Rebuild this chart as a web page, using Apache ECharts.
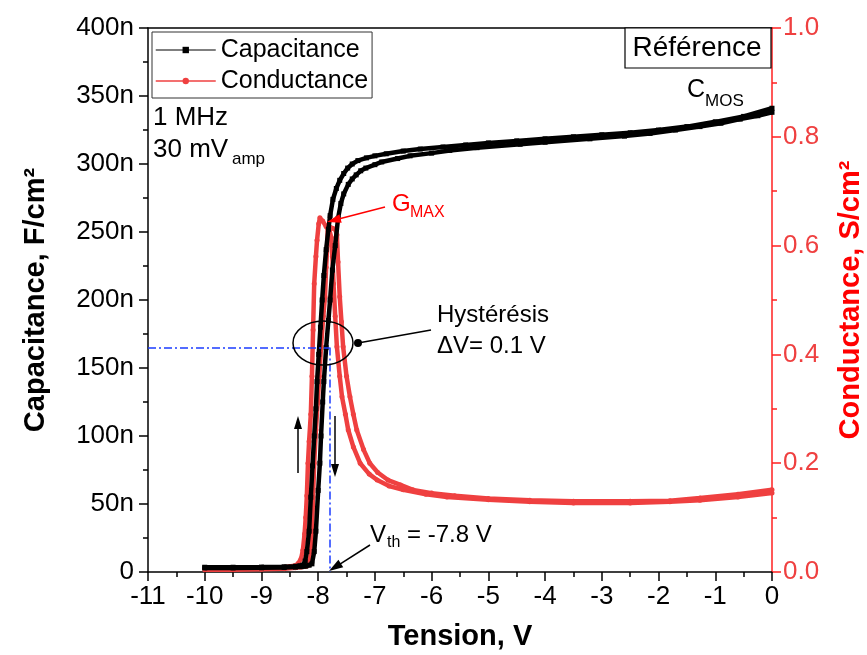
<!DOCTYPE html>
<html><head><meta charset="utf-8">
<script src="https://cdn.jsdelivr.net/npm/echarts@6/dist/echarts.min.js"></script>
<style>html,body{margin:0;padding:0;background:#fff}#c{width:867px;height:655px}</style>
</head><body><div id="c"></div>
<script>
// ---- data ----
const capUpV = [-10.0, -9.5, -9.0, -8.6, -8.4, -8.32, -8.27, -8.23, -8.2, -8.16, -8.13, -8.1, -8.07, -8.04, -8.02, -7.99, -7.96, -7.93, -7.9, -7.86, -7.82, -7.79, -7.74, -7.68, -7.62, -7.55, -7.48, -7.4, -7.3, -7.15, -7.0, -6.8, -6.5, -6.2, -5.8, -5.4, -5.0, -4.5, -4.0, -3.5, -3.0, -2.5, -2.0, -1.5, -1.0, -0.5, 0];
const capUpC = [3.5, 3.5, 3.6, 3.8, 4.2, 4.6, 5, 8, 15, 30, 55, 78, 100, 120, 140, 160, 180, 200, 218, 237, 252, 262, 274, 282, 288, 293, 297, 300, 302.5, 304.5, 306, 307.5, 309.5, 311, 312.5, 314, 315.5, 317, 318.5, 320, 321.5, 323, 325, 327.5, 331, 335, 341];
const capDownV = [-10.0, -9.5, -9.0, -8.6, -8.4, -8.3, -8.22, -8.16, -8.11, -8.07, -8.04, -8.0, -7.97, -7.95, -7.92, -7.9, -7.86, -7.82, -7.79, -7.75, -7.7, -7.65, -7.6, -7.55, -7.47, -7.4, -7.33, -7.25, -7.16, -7.0, -6.88, -6.6, -6.38, -6.0, -5.68, -5.2, -4.44, -4.0, -3.21, -2.6, -2.15, -1.7, -1.27, -0.9, -0.56, -0.25, 0];
const capDownC = [3.0, 3.0, 3.1, 3.3, 3.6, 3.9, 4.3, 5, 6, 15, 30, 60, 80, 100, 125, 140, 165, 185, 200, 222, 240, 260, 271, 278, 285, 289, 292, 295, 297, 299.5, 301.5, 304, 306, 308, 310, 312, 314.5, 316, 318.5, 320.5, 322.5, 325, 327.5, 330, 333, 335.5, 338];
const condUpV = [-10.0, -9.5, -9.0, -8.7, -8.5, -8.4, -8.35, -8.3, -8.27, -8.24, -8.22, -8.2, -8.18, -8.16, -8.13, -8.11, -8.09, -8.07, -8.04, -8.02, -7.99, -7.97, -7.92, -7.86, -7.8, -7.77, -7.75, -7.73, -7.7, -7.67, -7.62, -7.58, -7.52, -7.47, -7.38, -7.26, -7.1, -6.96, -6.75, -6.5, -6.1, -5.73, -5.0, -4.27, -3.5, -2.5, -1.8, -1.27, -0.6, 0];
const condUpG = [0.006, 0.006, 0.007, 0.008, 0.01, 0.012, 0.016, 0.025, 0.04, 0.07, 0.1, 0.14, 0.2, 0.24, 0.29, 0.36, 0.445, 0.53, 0.58, 0.61, 0.64, 0.651, 0.645, 0.635, 0.627, 0.615, 0.58, 0.53, 0.47, 0.414, 0.36, 0.322, 0.29, 0.261, 0.23, 0.2, 0.18, 0.169, 0.158, 0.151, 0.143, 0.138, 0.133, 0.129, 0.127, 0.127, 0.129, 0.132, 0.138, 0.145];
const condDownV = [-10.0, -9.5, -9.0, -8.6, -8.4, -8.3, -8.24, -8.2, -8.17, -8.14, -8.11, -8.09, -8.07, -8.04, -8.01, -7.98, -7.95, -7.91, -7.88, -7.86, -7.84, -7.83, -7.8, -7.75, -7.7, -7.67, -7.65, -7.62, -7.59, -7.56, -7.5, -7.44, -7.38, -7.32, -7.2, -7.09, -6.95, -6.77, -6.55, -6.33, -6.0, -5.59, -5.0, -4.27, -3.5, -2.5, -1.8, -1.27, -0.6, 0];
const condDownG = [0.004, 0.004, 0.005, 0.006, 0.008, 0.009, 0.01, 0.011, 0.013, 0.025, 0.077, 0.138, 0.2, 0.261, 0.31, 0.36, 0.414, 0.47, 0.506, 0.56, 0.6, 0.636, 0.634, 0.632, 0.63, 0.62, 0.57, 0.506, 0.46, 0.414, 0.36, 0.322, 0.29, 0.261, 0.225, 0.2, 0.183, 0.169, 0.16, 0.151, 0.145, 0.14, 0.135, 0.132, 0.13, 0.13, 0.131, 0.136, 0.143, 0.151];
const vThreshold = -7.8;   // V
const cThreshold = 165;    // nF/cm2
const xRange = [-11, 0];
const capRange = [0, 400];
const condRange = [0, 1];

// ---- chart ----
const FONT = '"Liberation Sans", Arial, sans-serif';
const RED = '#ef4040';
const zip = (a, b) => a.map((v, i) => [v, b[i]]);
const chart = echarts.init(document.getElementById('c'), null, {renderer: 'canvas'});

const capSeries = (name, V, C, extra) => Object.assign({
  name: name, type: 'line', xAxisIndex: 0, yAxisIndex: 0, data: zip(V, C),
  symbol: 'rect', symbolSize: 5, showSymbol: true, z: 4,
  lineStyle: {color: '#000', width: 4.5}, itemStyle: {color: '#000'}, emphasis: {disabled: true}
}, extra || {});
const condSeries = (name, V, G) => ({
  name: name, type: 'line', xAxisIndex: 0, yAxisIndex: 1, data: zip(V, G),
  symbol: 'circle', symbolSize: 5, showSymbol: true, z: 3,
  lineStyle: {color: RED, width: 4.5}, itemStyle: {color: RED}, emphasis: {disabled: true}
});

const option = {
  animation: false,
  backgroundColor: '#fff',
  textStyle: {fontFamily: FONT},
  grid: {left: 148, right: 95, top: 28, bottom: 83, outerBoundsMode: 'none', containLabel: false},
  legend: {
    left: 152, top: 32, orient: 'vertical',
    padding: [4, 4, 3, 3], itemGap: 3, itemWidth: 60, itemHeight: 8,
    borderColor: '#333', borderWidth: 1, backgroundColor: '#fff',
    textStyle: {fontSize: 25, color: '#000', fontFamily: FONT, lineHeight: 28},
    data: [
      {name: 'Capacitance', itemStyle: {color: '#000'}, lineStyle: {color: '#555', width: 1.5}},
      {name: 'Conductance', itemStyle: {color: RED}, lineStyle: {color: RED, width: 1.5}}
    ]
  },
  xAxis: [{
    type: 'value', position: 'bottom', min: xRange[0], max: xRange[1], interval: 1,
    name: 'Tension, V', nameLocation: 'middle', nameGap: 50,
    nameTextStyle: {fontSize: 29, fontWeight: 'bold', color: '#000', fontFamily: FONT},
    axisLine: {show: true, onZero: false, lineStyle: {color: '#000', width: 1.5}},
    axisTick: {show: true, length: 9, lineStyle: {color: '#000', width: 1.5}},
    minorTick: {show: true, splitNumber: 2, length: 5, lineStyle: {color: '#000', width: 1.5}},
    axisLabel: {fontSize: 26, color: '#000', margin: 12, fontFamily: FONT},
    splitLine: {show: false}
  }, {
    type: 'value', position: 'top', min: xRange[0], max: xRange[1],
    axisLine: {show: true, onZero: false, lineStyle: {color: '#000', width: 1.5}},
    axisTick: {show: false}, axisLabel: {show: false}, splitLine: {show: false}
  }],
  yAxis: [{
    type: 'value', position: 'left', min: capRange[0], max: capRange[1], interval: 50,
    name: 'Capacitance, F/cm²', nameLocation: 'middle', nameGap: 98,
    nameTextStyle: {fontSize: 29, fontWeight: 'bold', color: '#000', fontFamily: FONT},
    axisLine: {show: true, onZero: false, lineStyle: {color: '#000', width: 1.5}},
    axisTick: {show: true, length: 9, lineStyle: {color: '#000', width: 1.5}},
    minorTick: {show: true, splitNumber: 2, length: 5, lineStyle: {color: '#000', width: 1.5}},
    axisLabel: {fontSize: 26, color: '#000', margin: 14, fontFamily: FONT,
      formatter: v => v === 0 ? '0' : v + 'n'},
    splitLine: {show: false}
  }, {
    type: 'value', position: 'right', min: condRange[0], max: condRange[1], interval: 0.2,
    name: 'Conductance, S/cm²', nameLocation: 'middle', nameGap: 64,
    nameTextStyle: {fontSize: 29, fontWeight: 'bold', color: '#ff0000', fontFamily: FONT},
    axisLine: {show: true, onZero: false, lineStyle: {color: '#ff2020', width: 1.5}},
    axisTick: {show: true, length: 9, lineStyle: {color: '#ff2020', width: 1.5}},
    minorTick: {show: true, splitNumber: 2, length: 5, lineStyle: {color: '#ff2020', width: 1.5}},
    axisLabel: {fontSize: 26, color: RED, margin: 11, fontFamily: FONT,
      formatter: v => v.toFixed(1)},
    splitLine: {show: false}
  }],
  series: [
    condSeries('Conductance', condUpV, condUpG),
    condSeries('Conductance', condDownV, condDownG),
    capSeries('Capacitance', capUpV, capUpC, {
      markLine: {
        silent: true, symbol: 'none', label: {show: false}, z: 6,
        lineStyle: {color: '#1b3cff', width: 1.5, type: [8, 3, 2, 3]},
        emphasis: {disabled: true},
        data: [
          [{coord: [xRange[0], cThreshold]}, {coord: [vThreshold, cThreshold]}],
          [{coord: [vThreshold, cThreshold]}, {coord: [vThreshold, capRange[0]]}]
        ]
      }
    }),
    capSeries('Capacitance', capDownV, capDownC)
  ]
};
chart.setOption(option);

// ---- annotations ----
function arrow(x1, y1, x2, y2, color, len, w, lw) {
  const dx = x2 - x1, dy = y2 - y1, L = Math.hypot(dx, dy);
  const ux = dx / L, uy = dy / L;
  const bx = x2 - ux * len, by = y2 - uy * len;
  return [
    {type: 'line', z: 100, shape: {x1: x1, y1: y1, x2: bx + ux, y2: by + uy}, style: {stroke: color, lineWidth: lw}},
    {type: 'polygon', z: 100, shape: {points: [[x2, y2], [bx - uy * w / 2, by + ux * w / 2], [bx + uy * w / 2, by - ux * w / 2]]}, style: {fill: color}}
  ];
}
function txt(x, y, s, size, color, align) {
  return {type: 'text', z: 100, style: {x: x, y: y, text: s, fill: color || '#000',
    font: size + 'px ' + FONT, align: align || 'left', verticalAlign: 'middle'}};
}
const g = [];
g.push(txt(153, 118, '1 MHz', 26));
g.push(txt(153, 150, '30 mV', 26));
g.push(txt(232, 159, 'amp', 17));
g.push({type: 'rect', z: 100, shape: {x: 625, y: 28, width: 146, height: 40}, style: {fill: '#fff', stroke: '#000', lineWidth: 1.2}});
g.push(txt(697, 48, 'Référence', 28, '#000', 'center'));
g.push(txt(687, 90, 'C', 25));
g.push(txt(705, 101, 'MOS', 17));
g.push(txt(392, 204, 'G', 24, '#ff0000'));
g.push(txt(410, 213, 'MAX', 16, '#ff0000'));
g.push(...arrow(385, 207, 327, 222, '#ff0000', 14, 9, 1.5));
g.push({type: 'ellipse', z: 100, shape: {cx: 323, cy: 343, rx: 30, ry: 22}, style: {fill: null, stroke: '#000', lineWidth: 1.5}});
g.push({type: 'line', z: 100, shape: {x1: 358, y1: 343, x2: 431, y2: 330}, style: {stroke: '#000', lineWidth: 1.5}});
g.push({type: 'circle', z: 100, shape: {cx: 358, cy: 343, r: 4}, style: {fill: '#000'}});
g.push(txt(437, 315, 'Hystérésis', 24));
g.push(txt(437, 346, 'ΔV= 0.1 V', 24));
g.push(txt(370, 535, 'V', 24));
g.push(txt(387, 543, 'th', 16));
g.push(txt(407, 535, '= -7.8 V', 24));
g.push(...arrow(370, 545, 329, 571, '#000', 14, 9, 1.5));
g.push(...arrow(298, 473, 298, 416, '#000', 13, 8, 1.5));
g.push(...arrow(335, 416, 335, 477, '#000', 13, 8, 1.5));
chart.setOption({graphic: g});
</script>
</body></html>
